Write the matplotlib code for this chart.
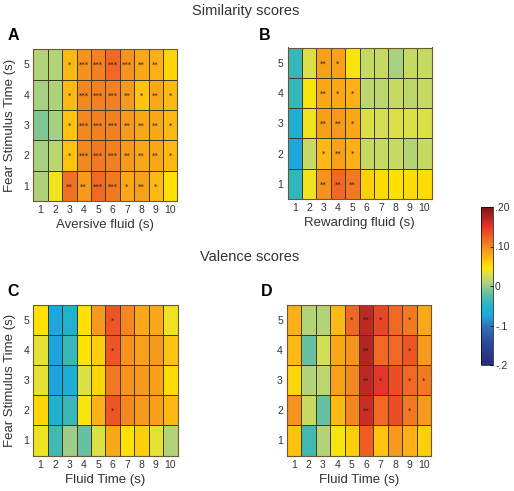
import numpy as np
import matplotlib
matplotlib.use("Agg")
import matplotlib.pyplot as plt
from matplotlib.colors import LinearSegmentedColormap, Normalize
from matplotlib.colorbar import ColorbarBase

plt.rcParams['font.family'] = ['Liberation Sans', 'DejaVu Sans']

# rows listed from top (5 s) to bottom (1 s), columns 1..10
fluid_times = list(range(1, 11))
fear_times = [5, 4, 3, 2, 1]

sim_aversive = [
    [0.010, 0.010, 0.070, 0.095, 0.105, 0.120, 0.095, 0.080, 0.075, 0.055],
    [0.005, 0.008, 0.070, 0.100, 0.105, 0.105, 0.090, 0.065, 0.080, 0.070],
    [-0.010, 0.005, 0.065, 0.100, 0.105, 0.105, 0.090, 0.080, 0.080, 0.070],
    [0.005, 0.015, 0.065, 0.100, 0.110, 0.105, 0.090, 0.080, 0.080, 0.070],
    [0.008, 0.040, 0.115, 0.090, 0.120, 0.110, 0.080, 0.085, 0.070, 0.050],
]
sim_aversive_stars = [
    ["", "", "*", "***", "***", "***", "***", "**", "**", ""],
    ["", "", "*", "***", "***", "***", "**", "*", "**", "*"],
    ["", "", "*", "***", "***", "***", "**", "**", "**", "*"],
    ["", "", "*", "***", "***", "***", "**", "**", "**", "*"],
    ["", "", "**", "**", "***", "***", "*", "**", "*", ""],
]

sim_rewarding = [
    [-0.040, 0.030, 0.085, 0.085, 0.045, 0.020, 0.020, 0.005, 0.020, 0.020],
    [-0.040, 0.045, 0.080, 0.080, 0.075, 0.015, 0.015, 0.020, 0.015, 0.020],
    [-0.060, 0.040, 0.085, 0.090, 0.080, 0.030, 0.025, 0.030, 0.030, 0.030],
    [-0.075, 0.020, 0.070, 0.085, 0.075, 0.020, 0.020, 0.020, 0.010, 0.020],
    [-0.045, 0.040, 0.095, 0.120, 0.110, 0.058, 0.052, 0.050, 0.052, 0.052],
]
sim_rewarding_stars = [
    ["", "", "**", "*", "", "", "", "", "", ""],
    ["", "", "**", "*", "*", "", "", "", "", ""],
    ["", "", "**", "**", "*", "", "", "", "", ""],
    ["", "", "*", "**", "*", "", "", "", "", ""],
    ["", "", "**", "**", "**", "", "", "", "", ""],
]

val_aversive = [
    [0.050, -0.075, -0.055, 0.050, 0.090, 0.130, 0.100, 0.080, 0.080, 0.040],
    [0.035, -0.078, -0.040, 0.050, 0.060, 0.130, 0.095, 0.085, 0.090, 0.065],
    [0.035, -0.078, -0.065, 0.030, 0.055, 0.110, 0.095, 0.090, 0.085, 0.052],
    [0.055, -0.055, -0.040, 0.045, 0.075, 0.130, 0.100, 0.090, 0.085, 0.070],
    [0.040, -0.035, 0.000, -0.020, 0.030, 0.080, 0.050, 0.060, 0.035, 0.010],
]
val_aversive_stars = [
    ["", "", "", "", "", "*", "", "", "", ""],
    ["", "", "", "", "", "*", "", "", "", ""],
    ["", "", "", "", "", "", "", "", "", ""],
    ["", "", "", "", "", "*", "", "", "", ""],
    ["", "", "", "", "", "", "", "", "", ""],
]

val_rewarding = [
    [0.075, 0.010, 0.010, 0.070, 0.120, 0.168, 0.140, 0.120, 0.110, 0.080],
    [0.070, -0.020, 0.025, 0.080, 0.095, 0.172, 0.120, 0.120, 0.130, 0.090],
    [0.055, 0.010, 0.015, 0.085, 0.100, 0.168, 0.150, 0.135, 0.120, 0.110],
    [0.095, 0.020, -0.020, 0.070, 0.100, 0.162, 0.120, 0.135, 0.110, 0.090],
    [0.065, -0.035, 0.010, 0.045, 0.060, 0.125, 0.065, 0.090, 0.075, 0.060],
]
val_rewarding_stars = [
    ["", "", "", "", "*", "**", "*", "", "*", ""],
    ["", "", "", "", "", "**", "", "", "*", ""],
    ["", "", "", "", "", "**", "*", "", "*", "*"],
    ["", "", "", "", "", "**", "", "", "*", ""],
    ["", "", "", "", "", "", "", "", "", ""],
]

cbar_ticks = [-0.2, -0.1, 0, 0.1, 0.2]
cbar_labels = ["-.2", "-.1", "0", ".10", ".20"]

# muted jet-like colormap
cmap = LinearSegmentedColormap.from_list("muted_jet", [
    (0.000, "#262b78"),
    (0.150, "#2c4c9e"),
    (0.250, "#2d78c0"),
    (0.310, "#1ea6e0"),
    (0.360, "#1eb2cf"),
    (0.410, "#3fb8b5"),
    (0.460, "#6fc29c"),
    (0.510, "#a5cf85"),
    (0.570, "#d6df50"),
    (0.620, "#ffe600"),
    (0.680, "#fdb515"),
    (0.750, "#f48a20"),
    (0.820, "#ef5a24"),
    (0.880, "#e3312a"),
    (1.000, "#7a1618"),
])
norm = Normalize(-0.2, 0.2)

fig = plt.figure(figsize=(5.14, 4.91), dpi=100)
W, H = 514.0, 491.0


def add_ax(x0, y0, x1, y1):
    return fig.add_axes([x0 / W, 1 - y1 / H, (x1 - x0) / W, (y1 - y0) / H])


def draw_panel(ax, data, stars, xlabel, ylabel=None):
    vals = np.array(data)[::-1]
    ax.pcolormesh(np.arange(0.5, 11), np.arange(0.5, 6), vals, cmap=cmap, norm=norm,
                  edgecolors="#3f3a22", linewidth=0.6)
    for r, row in enumerate(stars):
        y = fear_times[r]
        for c, s in enumerate(row):
            if s:
                ax.text(fluid_times[c], y - 0.02, s, ha="center", va="center",
                        fontsize=5, color="#222222", family="DejaVu Sans")
    ax.set_xlim(0.5, 10.5)
    ax.set_ylim(0.5, 5.5)
    ax.set_xticks(fluid_times)
    ax.set_yticks([1, 2, 3, 4, 5])
    ax.tick_params(length=0, labelsize=7.5, pad=3, colors="#333333")
    for sp in ax.spines.values():
        sp.set_color("#6b5a2e")
        sp.set_linewidth(0.8)
    ax.set_xlabel(xlabel, fontsize=9.5, color="#333333", labelpad=3)
    if ylabel:
        ax.set_ylabel(ylabel, fontsize=9.5, color="#333333", labelpad=5)


axA = add_ax(33.3, 49.3, 177.3, 201)
axB = add_ax(287.5, 47.5, 431.5, 199)
axC = add_ax(33.3, 305, 177.5, 455.5)
axD = add_ax(287, 304.5, 431, 455.5)

draw_panel(axA, sim_aversive, sim_aversive_stars, "Aversive fluid (s)", "Fear Stimulus Time (s)")
draw_panel(axB, sim_rewarding, sim_rewarding_stars, "Rewarding fluid (s)")
draw_panel(axC, val_aversive, val_aversive_stars, "Fluid Time (s)", "Fear Stimulus Time (s)")
draw_panel(axD, val_rewarding, val_rewarding_stars, "Fluid Time (s)")

fig.text(246 / W, 1 - 11 / H, "Similarity scores", ha="center", va="center", fontsize=10.5, color="#333333")
fig.text(250 / W, 1 - 257 / H, "Valence scores", ha="center", va="center", fontsize=10.5, color="#333333")
for lab, x, y in [("A", 13, 36), ("B", 265, 36), ("C", 13, 292), ("D", 267, 291)]:
    fig.text(x / W, 1 - y / H, lab, ha="center", va="center", fontsize=11.5, fontweight="bold")

cax = add_ax(481, 207, 493, 365)
cb = ColorbarBase(cax, cmap=cmap, norm=norm, ticks=cbar_ticks)
cb.set_ticklabels(cbar_labels)
cb.outline.set_linewidth(0.5)
cax.tick_params(labelsize=7.5, length=2, pad=1.5, direction="in", colors="#333333")

fig.savefig("out.png", dpi=100)
